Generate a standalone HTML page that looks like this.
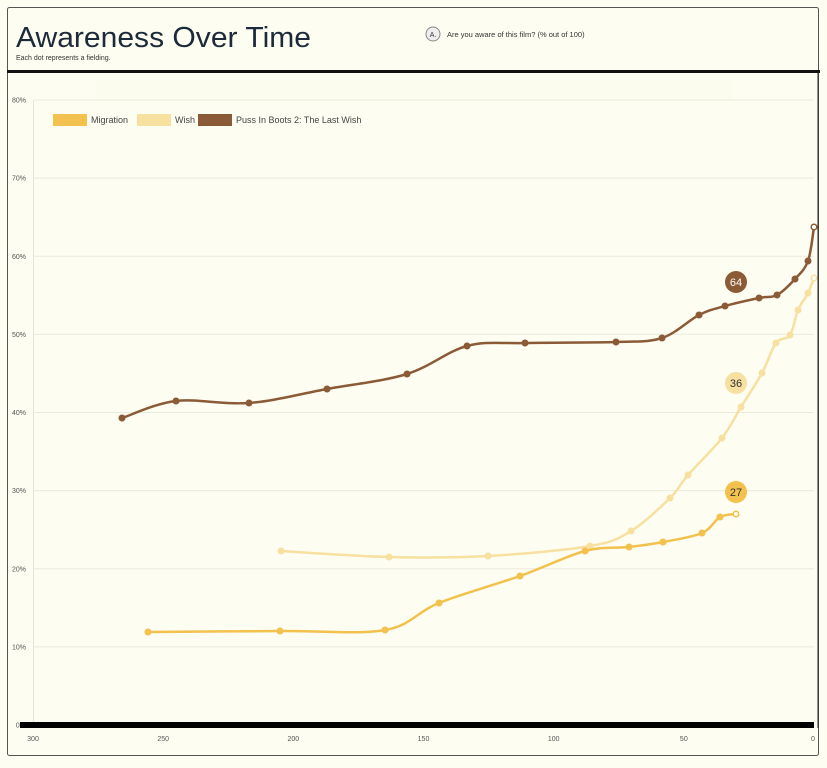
<!DOCTYPE html>
<html><head><meta charset="utf-8"><style>
html,body{margin:0;padding:0;background:#fdfdf1;width:827px;height:768px;overflow:hidden;font-family:"Liberation Sans",sans-serif}
</style></head><body>
<svg id="s" width="827" height="768" xmlns="http://www.w3.org/2000/svg" font-family="Liberation Sans, sans-serif">
<rect x="0" y="0" width="827" height="768" fill="#fdfdf1"/>
<rect x="7.5" y="7.5" width="811" height="748" rx="2" fill="#fdfdf1" stroke="#555" stroke-width="1"/>
<rect x="96" y="80" width="636" height="20" fill="#fbfbee"/>
<text x="16" y="47" font-size="29" fill="#1c2a3a" textLength="295" lengthAdjust="spacingAndGlyphs">Awareness Over Time</text>
<text x="16" y="60" font-size="7" fill="#333">Each dot represents a fielding.</text>
<circle cx="433" cy="34" r="7" fill="#eee" stroke="#888" stroke-width="1"/>
<text x="433" y="37" font-size="7" text-anchor="middle" fill="#333">A.</text>
<text x="447" y="37" font-size="7.5" fill="#333">Are you aware of this film? (% out of 100)</text>
<rect x="7" y="70" width="813" height="3" fill="#111"/>
<g id="grid" stroke="#ebebdc" stroke-width="1"></g>
<line x1="33.5" y1="100" x2="33.5" y2="725" stroke="#e6e6d6"/>
<g id="ylab" font-size="7" fill="#555" text-anchor="end"></g>
<g font-size="9" fill="#444">
<rect x="53" y="114" width="34" height="12" fill="#f2c14e"/><text x="91" y="123">Migration</text>
<rect x="137" y="114" width="34" height="12" fill="#f7e0a0"/><text x="175" y="123">Wish</text>
<rect x="198" y="114" width="34" height="12" fill="#8b5a36"/><text x="236" y="123">Puss In Boots 2: The Last Wish</text>
</g>
<rect x="20" y="722" width="794" height="6" fill="#000"/>
<line x1="818" y1="72" x2="818" y2="728" stroke="#222" stroke-width="1"/>
<g id="xlab" font-size="7" fill="#555" text-anchor="middle"></g>
<g id="series"></g>
<circle cx="736" cy="282" r="11" fill="#8b5a36"/><text x="736" y="286" font-size="11" fill="#fff" text-anchor="middle">64</text>
<circle cx="736" cy="383" r="11" fill="#f7e0a0"/><text x="736" y="387" font-size="11" fill="#333" text-anchor="middle">36</text>
<circle cx="736" cy="492" r="11" fill="#f2c14e"/><text x="736" y="496" font-size="11" fill="#333" text-anchor="middle">27</text>
</svg>
<script>
var NS="http://www.w3.org/2000/svg";
function el(t,a,p){var e=document.createElementNS(NS,t);for(var k in a)e.setAttribute(k,a[k]);document.getElementById(p).appendChild(e);return e;}
for(var i=1;i<=8;i++){var y=725-i*78.125;el("line",{x1:33,x2:814,y1:y,y2:y},"grid");el("text",{x:26,y:y+2.5},"ylab").textContent=(i*10)+"%";}
el("text",{x:26,y:727.5},"ylab").textContent="0%";
for(var v=300;v>=0;v-=50){var x=33+(300-v)*781/300;el("text",{x:v==0?813:x,y:741},"xlab").textContent=v;}
function path(p){var d="M"+p[0][0]+","+p[0][1];for(var i=0;i<p.length-1;i++){var p0=p[i-1]||p[i],p1=p[i],p2=p[i+1],p3=p[i+2]||p2;var t=6;
d+=" C"+(p1[0]+(p2[0]-p0[0])/t)+","+(p1[1]+(p2[1]-p0[1])/t)+" "+(p2[0]-(p3[0]-p1[0])/t)+","+(p2[1]-(p3[1]-p1[1])/t)+" "+p2[0]+","+p2[1];}return d;}
var S=[
["#f7e0a0",[[281,551],[389,557],[488,556],[590,546],[631,531],[670,498],[688,475],[722,438],[741,407],[762,373],[776,343],[790,335],[798,310],[808,293],[814,278]]],
["#f2c14e",[[148,632],[280,631],[385,630],[439,603],[520,576],[585,551],[629,547],[663,542],[702,533],[720,517],[736,514]]],
["#8b5a36",[[122,418],[176,401],[249,403],[327,389],[407,374],[467,346],[525,343],[616,342],[662,338],[699,315],[725,306],[759,298],[777,295],[795,279],[808,261],[814,227]]]
];
S.forEach(function(s){el("path",{d:path(s[1]),fill:"none",stroke:s[0],"stroke-width":2.5},"series");
s[1].forEach(function(p,i){var last=i==s[1].length-1;el("circle",{cx:p[0],cy:p[1],r:last?2.8:3.5,fill:last?"#fdfdf1":s[0],stroke:s[0],"stroke-width":last?1.5:0},"series");});});
</script>
</body></html>
